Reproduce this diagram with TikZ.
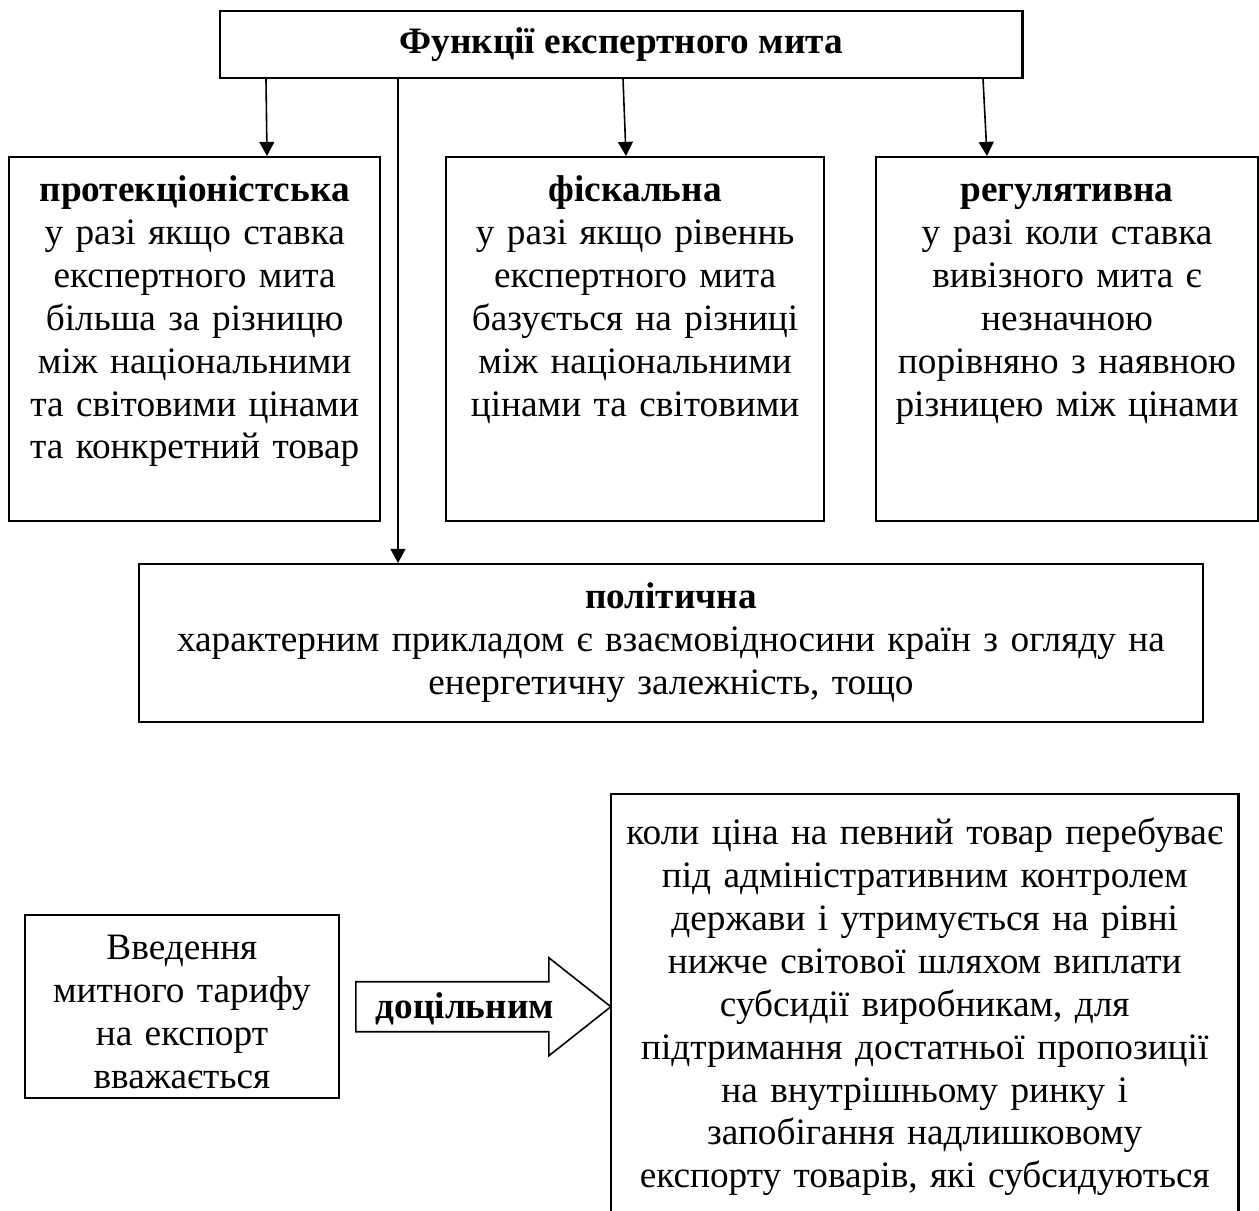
\documentclass[tikz,border=0pt]{standalone}
\usepackage{fontspec}
\setmainfont{Liberation Serif}
\usetikzlibrary{arrows.meta, calc}
\tikzstyle{head} = [draw, line width=0.8pt, anchor=north west, minimum width=10.59cm, minimum height=0.88cm]
\tikzstyle{kind} = [draw, line width=0.8pt, anchor=north west, align=center, inner xsep=2pt, inner ysep=0.13cm, text height=0.46cm]
\tikzstyle{arrow} = [line width=0.6pt, -{Triangle[length=5.3pt, width=5.6pt]}]

\begin{document}
\begin{tikzpicture}[x=0.0132cm, y=-0.0132cm, font=\fontsize{14pt}{16.1pt}\selectfont]
    \clip (0,0) rectangle (1259,1211);

    % Functions
    \node[head] (title) at (219,10) {\textbf{Функції експертного мита}};
    \node[kind, text width=4.76cm, text depth=4.08cm] (prot) at (8,156) {\textbf{протекціоністська}\\ у разі якщо ставка\\ експертного мита\\ більша за різницю\\ між національними\\ та світовими цінами\\ та конкретний товар};
    \node[kind, text width=4.85cm, text depth=4.08cm] (fisc) at (445,156) {\textbf{фіскальна}\\ у разі якщо рівеннь\\ експертного мита\\ базується на різниці\\ між національними\\ цінами та світовими};
    \node[kind, text width=4.90cm, text depth=4.08cm] (reg) at (875,156) {\textbf{регулятивна}\\ у разі коли ставка\\ вивізного мита є\\ незначною\\ порівняно з наявною\\ різницею між цінами};
    \node[kind, text width=13.90cm, text depth=1.36cm] (pol) at (138,563) {\textbf{політична}\\ характерним прикладом є взаємовідносини країн з огляду на\\ енергетичну залежність, тощо};

    \draw[arrow] ($(title.south west)+(47,0)$) -- ($(prot.north west)+(259,0)$);
    \draw[arrow] ($(title.south west)+(179,0)$) -- ($(pol.north west)+(260,0)$);
    \draw[arrow] ($(title.south west)+(404,0)$) -- ($(fisc.north west)+(181,0)$);
    \draw[arrow] ($(title.south west)+(764,0)$) -- ($(reg.north west)+(112,0)$);

    % Export tariff
    \node[kind, text width=4.0cm, text depth=1.70cm] (intro) at (24,914) {Введення\\ митного тарифу\\ на експорт\\ вважається};
    \node[kind, text width=8.14cm, text height=0.54cm, text depth=5.10cm] (cond) at (610,793) {коли ціна на певний товар перебуває\\ під адміністративним контролем\\ держави і утримується на рівні\\ нижче світової шляхом виплати\\ субсидії виробникам, для\\ підтримання достатньої пропозиції\\ на внутрішньому ринку і\\ запобігання надлишковому\\ експорту товарів, які субсидуються};

    \draw[line width=0.6pt] (intro.east) ++(16,-25) -- ++(193,0) -- ++(0,-24) -- ++(62,49) -- ++(-62,49) -- ++(0,-24) -- ++(-193,0) -- cycle;
    \node (dl) at ($(intro.east)+(125,2)$) {\textbf{доцільним}};

\end{tikzpicture}
\end{document}
